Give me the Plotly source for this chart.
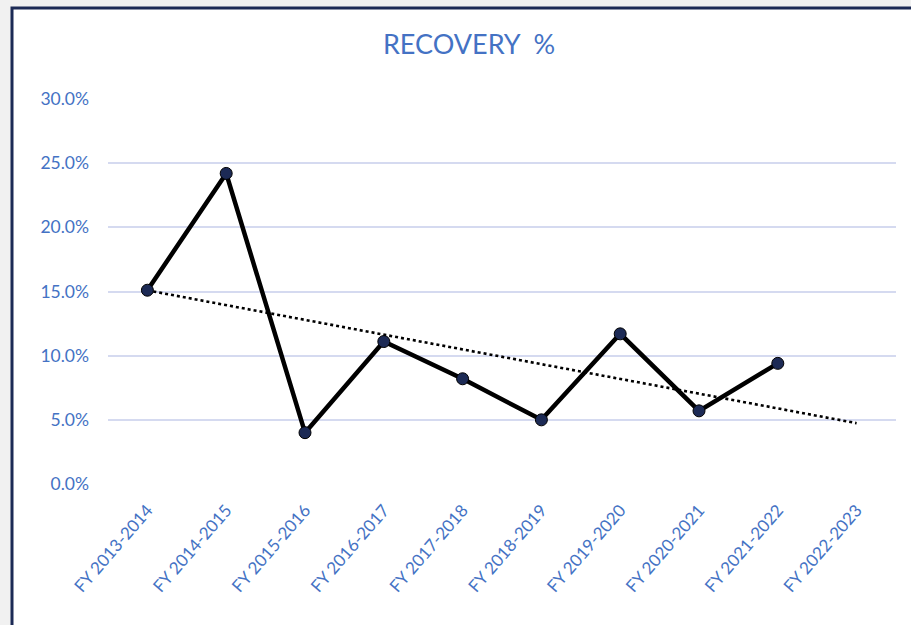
import numpy as np
import plotly.graph_objects as go

categories = ["FY 2013-2014", "FY 2014-2015", "FY 2015-2016", "FY 2016-2017", "FY 2017-2018",
              "FY 2018-2019", "FY 2019-2020", "FY 2020-2021", "FY 2021-2022", "FY 2022-2023"]
recovery = [0.151, 0.242, 0.040, 0.111, 0.082, 0.050, 0.117, 0.057, 0.094]
y_ticks = [0.0, 0.05, 0.10, 0.15, 0.20, 0.25, 0.30]

# linear trendline fitted to observed points, forecast to last category
xi = np.arange(1, len(recovery) + 1)
slope, intercept = np.polyfit(xi, recovery, 1)
x_trend = np.arange(1, len(categories) + 1)
trend = slope * x_trend + intercept

BLUE = "#4472C4"
FONT = "Lato"

fig = go.Figure()
fig.add_trace(go.Scatter(
    x=categories, y=list(trend), mode="lines",
    line=dict(color="black", width=2.6, dash="dot"), hoverinfo="skip", showlegend=False))
fig.add_trace(go.Scatter(
    x=categories[:len(recovery)], y=recovery, mode="lines+markers",
    line=dict(color="black", width=4.5),
    marker=dict(size=12, color="#1c2a55", line=dict(color="black", width=1)),
    showlegend=False))

W, H = 911, 625
ml, mr, mt, mb = 108, 15, 99, 141
pw, ph = W - ml - mr, H - mt - mb

def px(x):
    return (x - ml) / pw

def py(y):
    return (H - mb - y) / ph

fig.add_shape(type="rect", xref="paper", yref="paper",
              x0=px(12), x1=px(925), y0=py(640), y1=py(8),
              line=dict(color="#1c2a55", width=3), fillcolor="white", layer="below")

fig.update_layout(
    width=W, height=H,
    margin=dict(l=ml, r=mr, t=mt, b=mb),
    paper_bgcolor="#f1f1f1", plot_bgcolor="rgba(0,0,0,0)",
    font=dict(family=FONT, color=BLUE),
    title=dict(text="RECOVERY  %", xref="container", x=469 / W, xanchor="center",
               yref="container", y=1 - 45 / H, yanchor="middle",
               font=dict(family=FONT, size=27, color=BLUE)),
    xaxis=dict(type="category", categoryorder="array", categoryarray=categories,
               range=[-0.5, len(categories) - 0.5],
               showgrid=False, zeroline=False, showline=False, ticks="",
               tickangle=-49, ticklabelstandoff=12,
               tickfont=dict(family=FONT, size=17, color=BLUE)),
    yaxis=dict(range=[0, 0.30], tickvals=y_ticks, tickformat=".1%",
               showgrid=True, gridcolor="#d5daf0", gridwidth=1.5,
               zeroline=False, showline=False, ticks="", ticklabelstandoff=18,
               tickfont=dict(family=FONT, size=17.5, color=BLUE)),
)

fig.write_html("out.html", config={"displayModeBar": False},
               post_script="document.body.style.margin='0';document.body.style.overflow='hidden';")
